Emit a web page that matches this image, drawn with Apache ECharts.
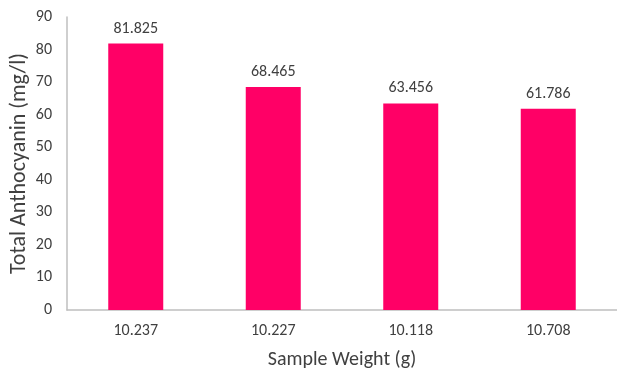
<!DOCTYPE html>
<html><head><meta charset="utf-8">
<script src="https://cdn.jsdelivr.net/npm/echarts@6/dist/echarts.min.js"></script>
<style>html,body{margin:0;padding:0;background:#fff}#c{width:617px;height:372px}</style>
</head><body><div id="c"></div>
<script>
const categories = ['10.237', '10.227', '10.118', '10.708'];
const values = [81.825, 68.465, 63.456, 61.786];
const labels = ['81.825', '68.465', '63.456', '61.786'];
const chart = echarts.init(document.getElementById('c'), null, {renderer: 'canvas'});
const font = 'Carlito, "Liberation Sans", "Open Sans", sans-serif';
chart.setOption({
  animation: false,
  grid: {left: 67, right: 0, top: 17, bottom: 62, containLabel: false, outerBoundsMode: 'none'},
  xAxis: {
    type: 'category', data: categories,
    name: 'Sample Weight (g)', nameLocation: 'middle', nameGap: 40, nameMoveOverlap: false,
    nameTextStyle: {fontSize: 20, color: '#404040', fontFamily: font},
    axisLine: {lineStyle: {color: '#bfbfbf', width: 1.5}},
    axisTick: {show: false},
    axisLabel: {fontSize: 16, color: '#404040', fontFamily: font, margin: 13}
  },
  yAxis: {
    type: 'value', min: 0, max: 90, interval: 10,
    name: 'Total Anthocyanin (mg/l)', nameLocation: 'middle', nameGap: 37, nameMoveOverlap: false,
    nameTextStyle: {fontSize: 22, color: '#404040', fontFamily: font},
    axisLine: {show: true, lineStyle: {color: '#bfbfbf', width: 1.5}},
    axisTick: {show: false},
    splitLine: {show: false},
    axisLabel: {fontSize: 16, color: '#404040', fontFamily: font, margin: 15}
  },
  series: [{
    type: 'bar', data: values, barWidth: '40%',
    itemStyle: {color: '#ff0066'},
    label: {show: true, position: 'top', distance: 7, fontSize: 16, color: '#404040', fontFamily: font,
      formatter: p => labels[p.dataIndex]}
  }]
});
</script></body></html>
